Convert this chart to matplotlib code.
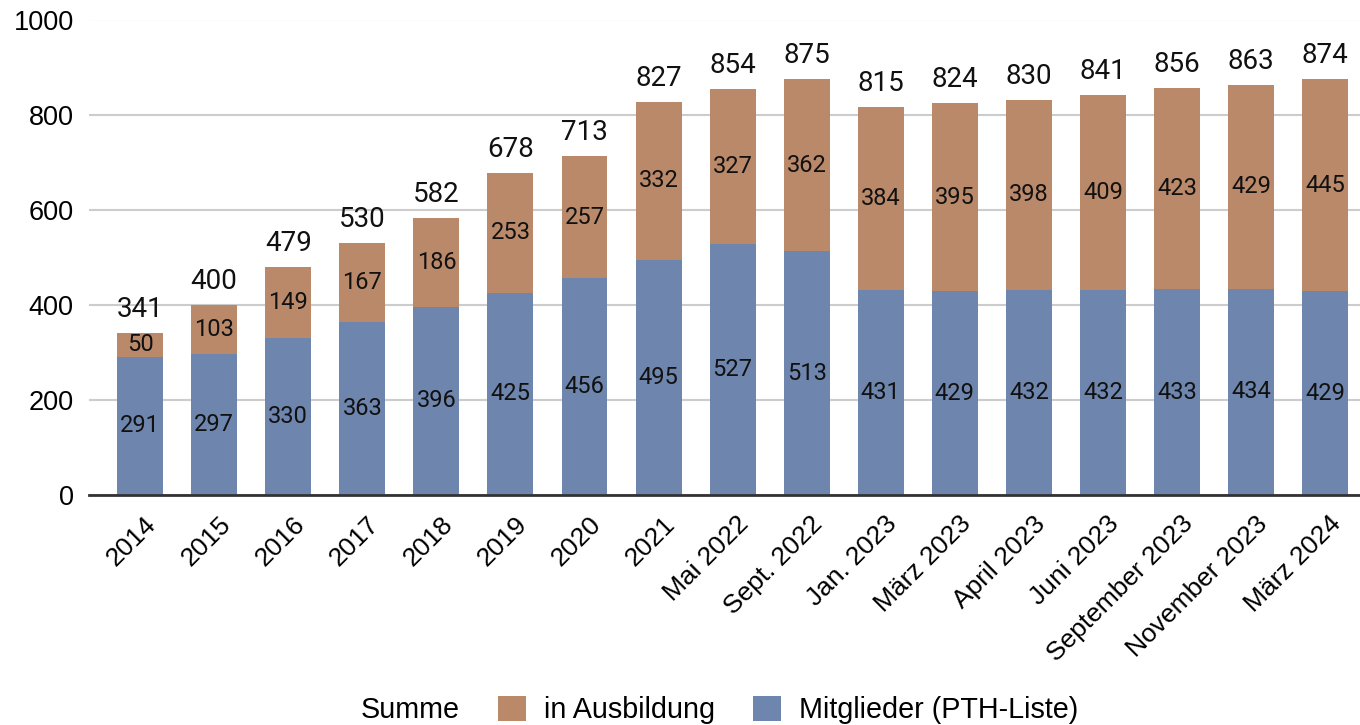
import matplotlib
matplotlib.use("Agg")
import matplotlib.pyplot as plt
import matplotlib.transforms as mtransforms
from matplotlib.patches import Patch
import numpy as np

categories = ["2014", "2015", "2016", "2017", "2018", "2019", "2020", "2021",
              "Mai 2022", "Sept. 2022", "Jan. 2023", "März 2023", "April 2023",
              "Juni 2023", "September 2023", "November 2023", "März 2024"]
mitglieder = [291, 297, 330, 363, 396, 425, 456, 495, 527, 513, 431, 429, 432, 432, 433, 434, 429]
ausbildung = [50, 103, 149, 167, 186, 253, 257, 332, 327, 362, 384, 395, 398, 409, 423, 429, 445]
summe = [341, 400, 479, 530, 582, 678, 713, 827, 854, 875, 815, 824, 830, 841, 856, 863, 874]
yticks = [0, 200, 400, 600, 800, 1000]

BLUE = "#6E86AD"
BROWN = "#B9896A"
NUM_FONT = "Roboto"
TXT_FONT = "Liberation Sans"

fig = plt.figure(figsize=(13.6, 7.25), dpi=100)
ax = fig.add_axes([89/1360, 1 - 495/725, 1 - 89/1360, (495 - 19.5)/725])

x = np.arange(len(categories))
w = 0.62
ax.bar(x, mitglieder, width=w, color=BLUE, zorder=3)
ax.bar(x, ausbildung, width=w, bottom=mitglieder, color=BROWN, zorder=3)

for i in range(len(x)):
    ax.text(x[i], mitglieder[i] / 2, str(mitglieder[i]), ha="center", va="center",
            fontsize=17, family=NUM_FONT, color="#111111", zorder=4)
    ax.text(x[i], mitglieder[i] + ausbildung[i] / 2, str(ausbildung[i]), ha="center",
            va="center", fontsize=17, family=NUM_FONT, color="#111111", zorder=4)
    ax.annotate(str(summe[i]), (x[i], summe[i]), xytext=(0, 11.5), textcoords="offset points",
                ha="center", va="baseline", fontsize=20, family=NUM_FONT, color="#111111", zorder=4)

ax.set_xlim(-0.69, 16.47)
ax.set_ylim(0, 1000)
ax.set_yticks(yticks)
ax.set_yticklabels([str(v) for v in yticks], fontsize=19.5, family=TXT_FONT)
ax.tick_params(axis="y", length=0, pad=11)
ax.set_xticks(x)
ax.set_xticklabels(categories, rotation=45, ha="right", va="top", rotation_mode="anchor",
                   fontsize=19, family=TXT_FONT)
ax.tick_params(axis="x", length=0, pad=12)
offset = mtransforms.ScaledTranslation(4/100, 0, fig.dpi_scale_trans)
for lbl in ax.get_xticklabels():
    lbl.set_transform(lbl.get_transform() + offset)

ax.grid(axis="y", color="#cccccc", linewidth=1.5, zorder=0)
for s in ["top", "right", "left"]:
    ax.spines[s].set_visible(False)
ax.spines["bottom"].set_color("#333333")
ax.spines["bottom"].set_linewidth(2)
ax.spines["bottom"].set_zorder(5)

handles = [Patch(facecolor="none", edgecolor="none"),
           Patch(facecolor=BROWN, edgecolor="none"),
           Patch(facecolor=BLUE, edgecolor="none")]
labels = ["Summe", "in Ausbildung", "Mitglieder (PTH-Liste)"]
fig.legend(handles, labels, loc="center left", bbox_to_anchor=(315/1360, 1 - 710/725),
           ncol=3, frameon=False, borderpad=0, borderaxespad=0,
           handlelength=0.97, handleheight=0.97, handletextpad=0.62, columnspacing=1.33,
           prop={"family": TXT_FONT, "size": 20.7})

fig.savefig("out.png", dpi=100)
